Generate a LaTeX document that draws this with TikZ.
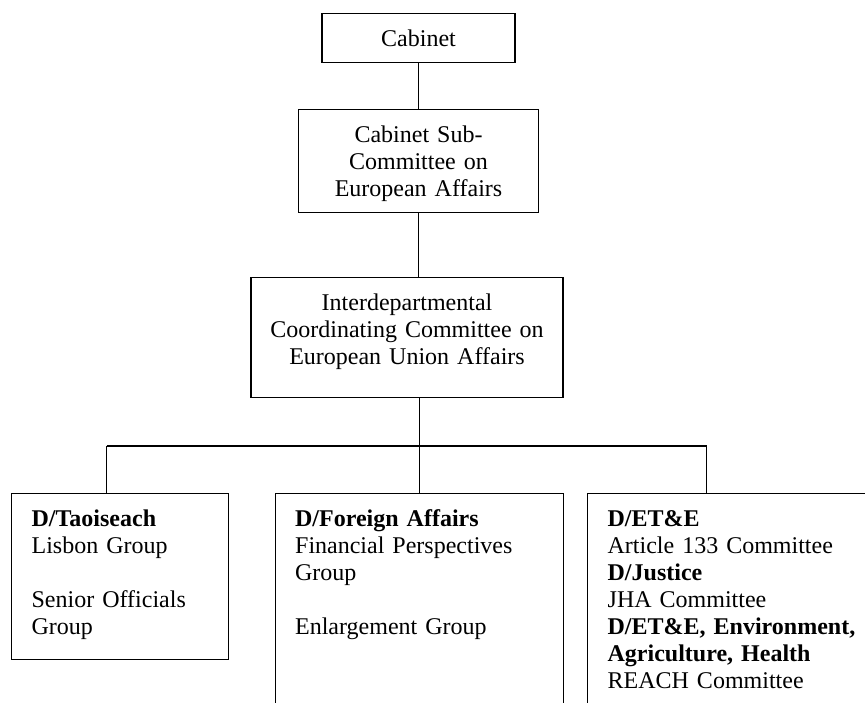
\documentclass[tikz,border=0pt]{standalone}
\usepackage{fontspec}
\setmainfont{Liberation Serif}

\begin{document}
\begin{tikzpicture}[x=0.5pt,y=-0.5pt]
        \tikzset{box/.style = {draw,line width=0.65pt,inner ysep=8pt,text height=8.5pt,font=\fontsize{12}{13.5}\selectfont}}
        \tikzset{topbox/.style = {box,align=center,anchor=north,inner xsep=0pt}}
        \tikzset{deptbox/.style = {box,align=left,anchor=north west,inner xsep=10pt}}
        \tikzset{edge/.style = {line width=0.65pt}}
        \useasboundingbox (0,0) rectangle (865,702);
        \clip (0,0) rectangle (865,702);
        % boxes
        \node[topbox,text width=96.5pt,text depth=0pt] (cabinet) at (418.5,13) {Cabinet};
        \node[topbox,text width=120pt,text depth=27pt] (sub) at (418.5,109) {Cabinet Sub-\\Committee on\\European Affairs};
        \node[topbox,text width=156pt,text depth=35.5pt] (icc) at (407,277) {Interdepartmental\\Coordinating Committee on\\European Union Affairs};
        \node[deptbox,text width=88.5pt,text depth=58.5pt] (taoiseach) at (11,493) {\textbf{D/Taoiseach}\\Lisbon Group\\[13.5pt]Senior Officials\\Group};
        \node[deptbox,text width=124pt,text depth=150pt] (foreign) at (274.5,493) {\textbf{D/Foreign Affairs}\\Financial Perspectives\\Group\\[13.5pt]Enlargement Group};
        \node[deptbox,text width=150pt,text depth=150pt] (ete) at (587,493) {\textbf{D/ET\&E}\\Article 133 Committee\\\textbf{D/Justice}\\JHA Committee\\\textbf{D/ET\&E, Environment,}\\\textbf{Agriculture, Health}\\REACH Committee};
        % edges
        \coordinate (busL) at (106.5,446);
        \coordinate (busR) at (706.5,446);
        \draw[edge] (cabinet.south) -- (cabinet.south |- sub.north);
        \draw[edge] (sub.south) -- (sub.south |- icc.north);
        \draw[edge] (foreign.north |- icc.south) -- (foreign.north);
        \draw[edge] (busL) -- (busR);
        \draw[edge] (busL) -- (busL |- taoiseach.north);
        \draw[edge] (busR) -- (busR |- ete.north);
\end{tikzpicture}
\end{document}
